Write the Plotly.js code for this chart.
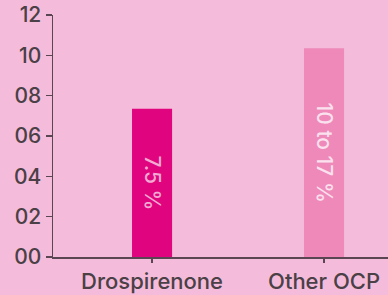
<!DOCTYPE html>
<html>
<head>
<meta charset="utf-8">
<script src="https://cdn.plot.ly/plotly-3.0.1.min.js"></script>
<style>html,body{margin:0;padding:0;background:#F4BCDA;}#chart{width:388px;height:295px;}</style>
</head>
<body>
<div id="chart"></div>
<script>
var categories = ["Drospirenone", "Other OCP"];
var values = [7.35, 10.35];
var barLabels = ["7.5 %", "10 to 17 %"];
var tickVals = [0, 2, 4, 6, 8, 10, 12];
var tickText = ["00", "02", "04", "06", "08", "10", "12"];

var trace = {
  type: "bar",
  x: categories,
  y: values,
  text: barLabels,
  textposition: "inside",
  insidetextanchor: "middle",
  textangle: 90,
  textfont: {family: "Inter, sans-serif", size: 21, weight: 500, color: ["#F4A9D3", "#FBE0EE"]},
  marker: {color: ["#E1047F", "#EE89B9"], line: {width: 0}},
  width: 0.233,
  hoverinfo: "none"
};

var layout = {
  width: 388, height: 295,
  margin: {l: 53, r: 0, t: 15, b: 38},
  paper_bgcolor: "#F4BCDA",
  plot_bgcolor: "#F4BCDA",
  showlegend: false,
  font: {family: "Inter, sans-serif", color: "#4a4046"},
  xaxis: {
    range: [-0.576, 1.372],
    showline: true, linecolor: "#5a4552", linewidth: 1.5,
    ticks: "outside", ticklen: 4, tickcolor: "#5a4552", tickwidth: 1.5,
    tickfont: {size: 22, weight: 500, color: "#4a4046"},
    showgrid: false, zeroline: false, fixedrange: true
  },
  yaxis: {
    range: [0, 12],
    tickvals: tickVals, ticktext: tickText,
    showline: true, linecolor: "#5a4552", linewidth: 1.5,
    ticks: "outside", ticklen: 6, tickcolor: "#5a4552", tickwidth: 1.5,
    tickfont: {size: 21, weight: 500, color: "#4a4046"},
    showgrid: false, zeroline: false, fixedrange: true
  }
};

Plotly.newPlot("chart", [trace], layout, {displayModeBar: false, staticPlot: true});
</script>
</body>
</html>
